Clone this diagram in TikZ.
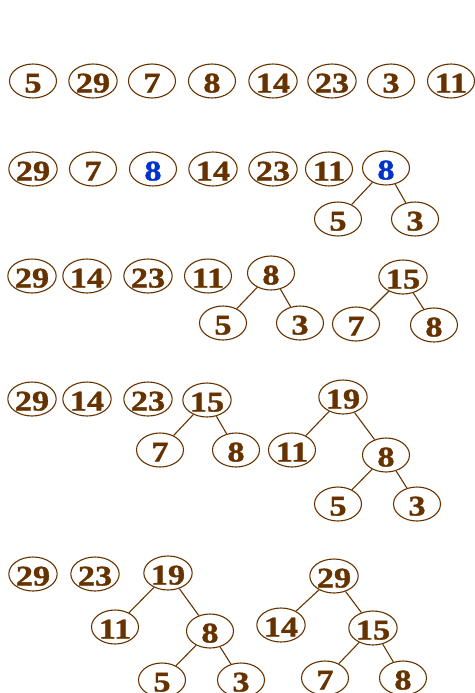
\documentclass[tikz,border=0pt]{standalone}
\usepackage{fontspec}
\newfontfamily\keyfont[FakeStretch=1.2,FakeBold=1.2]{Liberation Serif Bold}
\usetikzlibrary{shapes.geometric}
\definecolor{treebrown}{HTML}{663300}
\definecolor{markblue}{HTML}{0033CC}

\begin{document}
\begin{tikzpicture}[x=1pt,y=-1pt,
  key/.style={draw=treebrown,line width=1.1pt,ellipse,inner sep=0pt,
    minimum width=47pt,minimum height=34pt,text height=23pt,text depth=0pt,
    text=treebrown,font=\keyfont\fontsize{28.5}{28.5}\selectfont},
  hot/.style={key,text=markblue},
  link/.style={draw=treebrown,line width=1.1pt}]
  \useasboundingbox (0,0) rectangle (474,693);
  % the keys as given
  \node[key] (a1) at (33,81) {5};
  \node[key] (a2) at (93,81) {29};
  \node[key] (a3) at (152,81) {7};
  \node[key] (a4) at (212,81) {8};
  \node[key] (a5) at (273,81) {14};
  \node[key] (a6) at (332,81) {23};
  \node[key] (a7) at (391,81) {3};
  \node[key] (a8) at (451,81) {11};
  % 5 and 3 merged
  \node[key] (b1) at (33,169) {29};
  \node[key] (b2) at (93,169) {7};
  \node[hot] (b3) at (153,169) {8};
  \node[key] (b4) at (213,169) {14};
  \node[key] (b5) at (273,169) {23};
  \node[key] (b6) at (329,169) {11};
  \node[hot] (b7) at (386,168) {8};
  \node[key] (b71) at (338,219) {5};
  \node[key] (b72) at (415,219) {3};
  \draw[link] (b7) -- (b71);
  \draw[link] (b7) -- (b72);
  % 7 and 8 merged
  \node[key] (c1) at (32,276) {29};
  \node[key] (c2) at (87,276) {14};
  \node[key] (c3) at (148,276) {23};
  \node[key] (c4) at (208,276) {11};
  \node[key] (c5) at (271,273) {8};
  \node[key] (c51) at (223,323) {5};
  \node[key] (c52) at (300,323) {3};
  \node[key] (c6) at (403,277) {15};
  \node[key] (c61) at (356,324) {7};
  \node[key] (c62) at (434,325) {8};
  \draw[link] (c5) -- (c51);
  \draw[link] (c5) -- (c52);
  \draw[link] (c6) -- (c61);
  \draw[link] (c6) -- (c62);
  % 11 and 8 merged
  \node[key] (d1) at (32,399) {29};
  \node[key] (d2) at (87,399) {14};
  \node[key] (d3) at (148,399) {23};
  \node[key] (d4) at (207,400) {15};
  \node[key] (d41) at (160,450) {7};
  \node[key] (d42) at (236,450) {8};
  \node[key] (d5) at (343,397) {19};
  \node[key] (d51) at (292,450) {11};
  \node[key] (d52) at (386,455) {8};
  \node[key] (d521) at (338,504) {5};
  \node[key] (d522) at (417,504) {3};
  \draw[link] (d4) -- (d41);
  \draw[link] (d4) -- (d42);
  \draw[link] (d5) -- (d51);
  \draw[link] (d5) -- (d52);
  \draw[link] (d52) -- (d521);
  \draw[link] (d52) -- (d522);
  % 14 and 15 merged
  \node[key] (e1) at (33,574) {29};
  \node[key] (e2) at (95,574) {23};
  \node[key] (e3) at (168,573) {19};
  \node[key] (e31) at (115,627) {11};
  \node[key] (e32) at (210,631) {8};
  \node[key] (e321) at (162,680) {5};
  \node[key] (e322) at (241,680) {3};
  \node[key] (e4) at (334,576) {29};
  \node[key] (e41) at (281,625) {14};
  \node[key] (e42) at (373,628) {15};
  \node[key] (e421) at (325,678) {7};
  \node[key] (e422) at (403,678) {8};
  \draw[link] (e3) -- (e31);
  \draw[link] (e3) -- (e32);
  \draw[link] (e32) -- (e321);
  \draw[link] (e32) -- (e322);
  \draw[link] (e4) -- (e41);
  \draw[link] (e4) -- (e42);
  \draw[link] (e42) -- (e421);
  \draw[link] (e42) -- (e422);
\end{tikzpicture}
\end{document}
